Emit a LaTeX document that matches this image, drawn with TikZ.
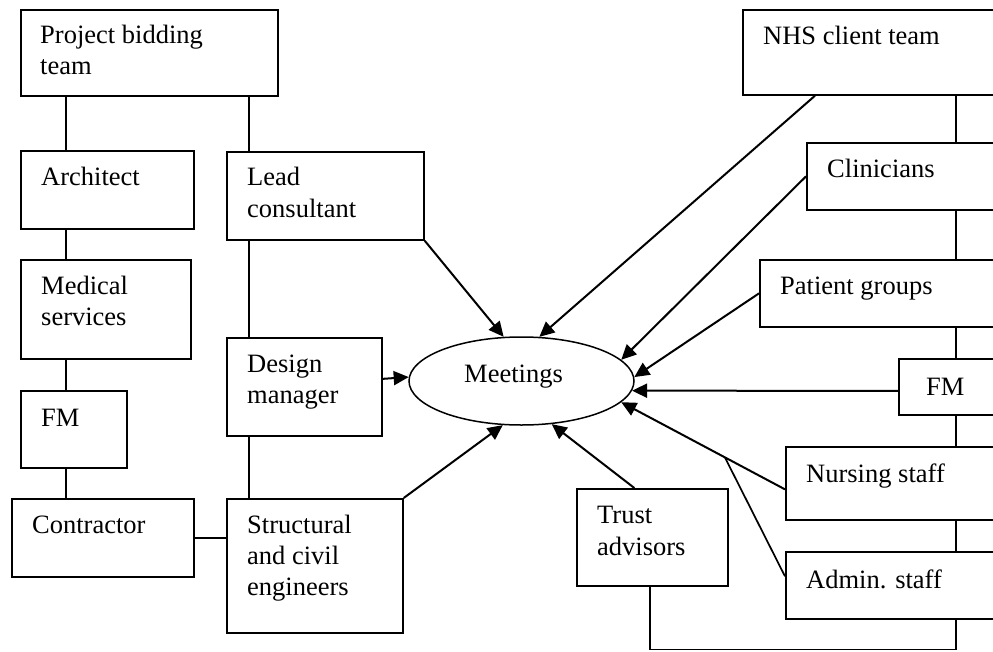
\documentclass[tikz,border=0pt]{standalone}
\usepackage{fontspec}
\setmainfont{Liberation Serif}
\usetikzlibrary{shapes.geometric,arrows.meta,calc}
\begin{document}
\begin{tikzpicture}[x=1pt,y=-1pt,
  box/.style={draw, rectangle, inner sep=0pt, anchor=north west, line width=1.7pt},
  txt/.style={anchor=base west, inner sep=0pt, font=\fontsize{26.5}{31}\selectfont},
  con/.style={line width=1.7pt},
  arr/.style={line width=2pt, -{Triangle[length=15pt,width=14pt]}}]
\useasboundingbox (0,0) rectangle (993,651);
\clip (0,0) rectangle (993,651);
\fill[white] (0,0) rectangle (993,651);
% column guides
\coordinate (cL) at (66,0);
\coordinate (cM) at (249,0);
\coordinate (cR) at (956,0);
\coordinate (cT) at (650,0);
\coordinate (cB) at (0,649.5);
% left boxes
\node[box, minimum width=257pt, minimum height=86pt] (pbt) at (20,9) {};
\node[box, minimum width=173pt, minimum height=78pt] (arch) at (20,150) {};
\node[box, minimum width=197pt, minimum height=88pt] (lead) at (226,151) {};
\node[box, minimum width=170pt, minimum height=99pt] (med) at (20,259) {};
\node[box, minimum width=155pt, minimum height=98pt] (dm) at (226,337) {};
\node[box, minimum width=106pt, minimum height=77pt] (fml) at (20,390) {};
\node[box, minimum width=182pt, minimum height=78pt] (contr) at (11,498) {};
\node[box, minimum width=176pt, minimum height=134pt] (struct) at (226,498) {};
% right boxes
\node[box, minimum width=268pt, minimum height=85pt] (nhs) at (742,9) {};
\node[box, minimum width=204pt, minimum height=67pt] (clin) at (806,142) {};
\node[box, minimum width=251pt, minimum height=67pt] (pat) at (759,259) {};
\node[box, minimum width=112pt, minimum height=56pt] (fmr) at (898,358) {};
\node[box, minimum width=225pt, minimum height=73pt] (nurse) at (785,446) {};
\node[box, minimum width=225pt, minimum height=67pt] (admin) at (785,551) {};
\node[box, minimum width=151pt, minimum height=97pt] (trust) at (576,488) {};
% meetings
\node[draw, ellipse, line width=1.5pt, inner sep=0pt, minimum width=225pt, minimum height=88pt] (meet) at (521.5,381) {};
% texts
\node[txt] (t-pbt1) at (40,43) {Project bidding};
\node[txt] (t-pbt2) at (40,74) {team};
\node[txt] (t-arch) at (41,185) {Architect};
\node[txt] (t-lead1) at (247,185) {Lead};
\node[txt] (t-lead2) at (247,217) {consultant};
\node[txt] (t-med1) at (41,294) {Medical};
\node[txt] (t-med2) at (41,325) {services};
\node[txt] (t-dm1) at (247,372) {Design};
\node[txt] (t-dm2) at (247,403) {manager};
\node[txt] (t-fml) at (41,426) {FM};
\node[txt] (t-contr) at (32,533) {Contractor};
\node[txt] (t-st1) at (247,533) {Structural};
\node[txt] (t-st2) at (247,564) {and civil};
\node[txt] (t-st3) at (247,595) {engineers};
\node[txt] (t-meet) at (464,382) {Meetings};
\node[txt] (t-nhs) at (763,44) {NHS client team};
\node[txt] (t-clin) at (827,177) {Clinicians};
\node[txt] (t-pat) at (780,294) {Patient groups};
\node[txt] (t-fmr) at (926,395) {FM};
\node[txt] (t-nurse) at (806,482) {Nursing staff};
\node[txt] (t-admin) at (806,588) {Admin. staff};
\node[txt] (t-tr1) at (597,523) {Trust};
\node[txt] (t-tr2) at (597,555) {advisors};
% plain connectors, left
\draw[con] (cL |- pbt.south) -- (cL |- arch.north);
\draw[con] (cL |- arch.south) -- (cL |- med.north);
\draw[con] (cL |- med.south) -- (cL |- fml.north);
\draw[con] (cL |- fml.south) -- (cL |- contr.north);
\draw[con] (cM |- pbt.south) -- (cM |- lead.north);
\draw[con] (cM |- lead.south) -- (cM |- dm.north);
\draw[con] (cM |- dm.south) -- (cM |- struct.north);
\draw[con] (contr.east) -- (contr.east -| struct.west);
% plain connectors, right
\draw[con] (cR |- nhs.south) -- (cR |- clin.north);
\draw[con] (cR |- clin.south) -- (cR |- pat.north);
\draw[con] (cR |- pat.south) -- (cR |- fmr.north);
\draw[con] (cR |- fmr.south) -- (cR |- nurse.north);
\draw[con] (cR |- nurse.south) -- (cR |- admin.north);
\draw[con] (cT |- trust.south) -- (cT |- cB) -- (cR |- cB) -- (cR |- admin.south);
% arrows
\draw[arr] (lead.south east) -- (meet.112.4);
\draw[arr] ([xshift=73pt]nhs.south west) -- (meet.68.7);
\draw[arr] (clin.west) -- (meet.12.9);
\draw[arr] (pat.west) -- (meet.2);
\draw[arr] ([yshift=-4pt]fmr.west) -- (meet.355.3);
\draw[arr] ([yshift=-6pt]nurse.west) coordinate (ns) -- (meet.348.2);
\coordinate (jn) at ($(ns)!0.367!(meet.348.2)$);
\draw[con] ([yshift=9pt]admin.west) -- (jn);
\draw[arr] ([xshift=-18pt]trust.north) -- (meet.305.6);
\draw[arr] (struct.north east) -- (meet.247.2);
\draw[arr] ([yshift=8pt]dm.east) -- (meet.178.5);
\end{tikzpicture}
\end{document}
